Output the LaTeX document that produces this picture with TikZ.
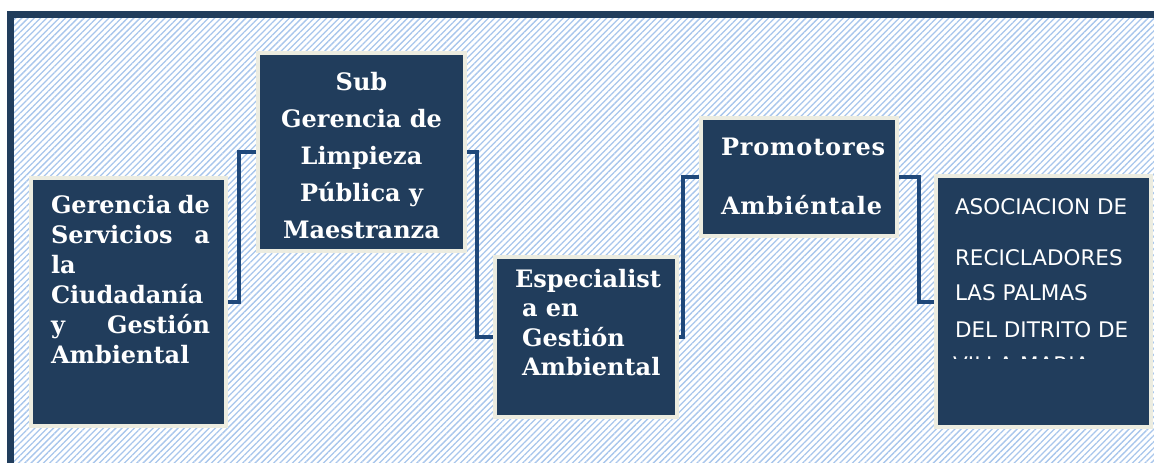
\documentclass[tikz,border=0pt]{standalone}
\usepackage{fontspec}
\setmainfont{DejaVu Serif}
\newfontfamily\asocfont{DejaVu Sans}
\usetikzlibrary{patterns.meta, positioning}

\definecolor{boxnavy}{RGB}{33,61,92}
\definecolor{boxcream}{RGB}{236,236,224}
\definecolor{linknavy}{RGB}{31,72,122}
\definecolor{hatchblue}{RGB}{168,198,236}

\begin{document}
\begin{tikzpicture}[x=1pt, y=-1pt]
    \tikzset{
        box/.style = {rectangle, draw=boxcream, fill=boxnavy, line width=4pt, inner sep=0pt, text=white, anchor=north west},
        link/.style = {draw=linknavy, line width=4pt},
        hatch/.style = {pattern={Lines[angle=45, distance=4.4pt, line width=1.3pt]}, pattern color=hatchblue},
    }

    \useasboundingbox (0,0) rectangle (1154,463);
    \fill[white] (0,0) rectangle (1154,463);
    \fill[hatch] (14,18) rectangle (1154,463);
    \fill[boxnavy] (7,11) rectangle (1154,18);
    \fill[boxnavy] (7,11) rectangle (14,463);

    \node[box](gerencia) at (29,176) {\parbox[t][248pt][t]{195pt}{\bfseries\fontsize{24}{30}\selectfont\leftskip=20pt \rightskip=16pt
        \rule{0pt}{35pt}Gerencia\hfill de\\ Servicios\hfill a\\ la\\ Ciudadanía\\ y\hfill Gestión\\ Ambiental}};

    \node[box](subgerencia) at (256,51) {\parbox[t][198pt][t]{207pt}{\bfseries\fontsize{24}{37}\selectfont\centering
        \rule{0pt}{37pt}Sub\\ Gerencia de\\ Limpieza\\ Pública y\\ Maestranza}};

    \node[box](especialista) at (493,255) {\parbox[t][160pt][t]{182pt}{\bfseries\fontsize{24}{29.5}\selectfont\leftskip=20pt
        \rule{0pt}{30pt}Especialist\\ \hspace*{7pt}a en\\ \hspace*{7pt}Gestión\\ \hspace*{7pt}Ambiental}};

    \node[box](promotores) at (699,116) {\parbox[t][118pt][t]{196pt}{\bfseries\fontsize{24}{59}\selectfont\addfontfeature{LetterSpace=3.5}\leftskip=20pt
        \rule{0pt}{37pt}Promotores\\ Ambiéntale}};

    \node[box](asociacion) at (934,174) {\parbox[t][251pt][t]{215pt}{\asocfont\fontsize{21.5}{36}\selectfont\leftskip=19pt
        \rule{0pt}{38pt}ASOCIACION DE\\[15pt] RECICLADORES\\[-1pt] LAS PALMAS\\[1pt] DEL DITRITO DE}};

    \begin{scope}
        \clip (936,300) rectangle (1147,358);
        \node[text=white, inner sep=0pt, anchor=base west, font=\asocfont\fontsize{21.5}{36}\selectfont](villa) at (953,372) {VILLA MARIA};
    \end{scope}

    \path [link] (gerencia.east) -- ++(11,0) |- (subgerencia.west);
    \path [link] (subgerencia.east) -- ++(10,0) |- (especialista.west);
    \path [link] (especialista.east) -- ++(4,0) |- (promotores.west);
    \path [link] (promotores.east) -- ++(20,0) |- (asociacion.west);

\end{tikzpicture}
\end{document}
